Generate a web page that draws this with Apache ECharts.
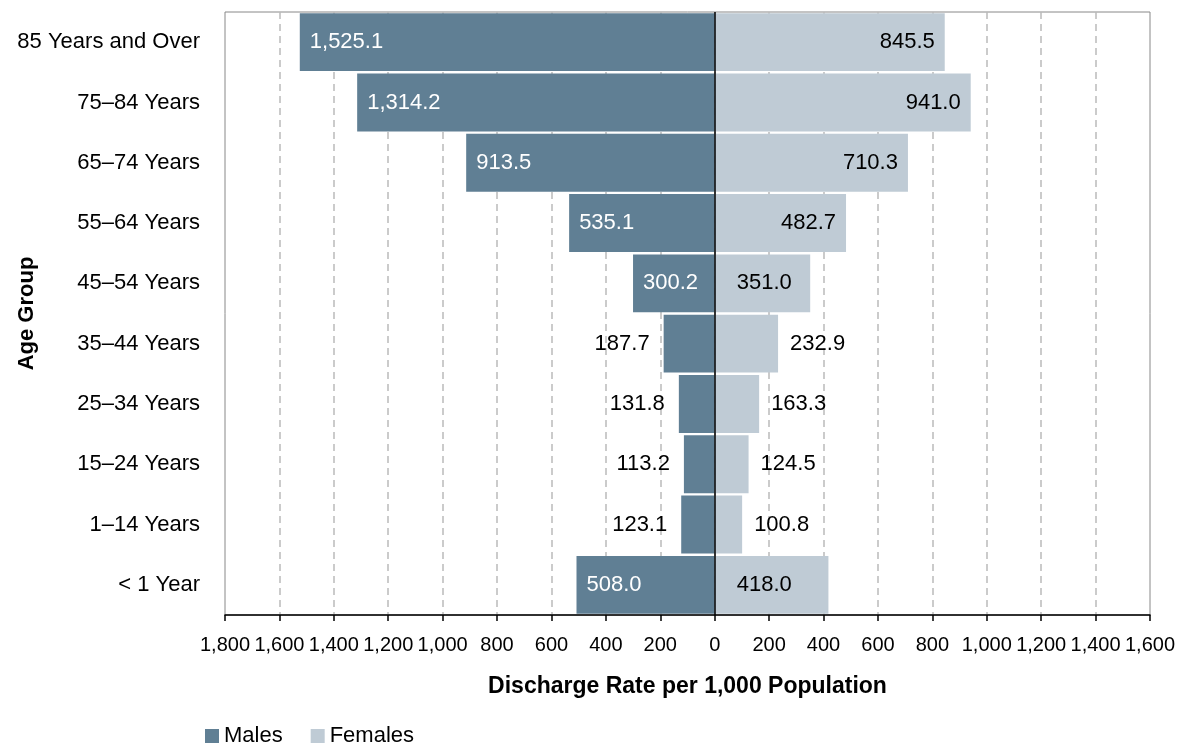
<!DOCTYPE html>
<html>
<head>
<meta charset="utf-8">
<script src="https://cdn.jsdelivr.net/npm/echarts@6/dist/echarts.min.js"></script>
<style>html,body{margin:0;padding:0;background:#fff}#c{width:1183px;height:745px}</style>
</head>
<body>
<div id="c"></div>
<script>
const categories = ["85 Years and Over","75–84 Years","65–74 Years","55–64 Years","45–54 Years","35–44 Years","25–34 Years","15–24 Years","1–14 Years","< 1 Year"];
const males = [1525.1, 1314.2, 913.5, 535.1, 300.2, 187.7, 131.8, 113.2, 123.1, 508.0];
const females = [845.5, 941.0, 710.3, 482.7, 351.0, 232.9, 163.3, 124.5, 100.8, 418.0];
const xMin = -1800, xMax = 1600, xStep = 200;

const FONT = '"Liberation Sans", Arial, sans-serif';
const fmt = v => Math.abs(v).toLocaleString('en-US', {minimumFractionDigits: 1, maximumFractionDigits: 1});
const fmtTick = v => Math.abs(v).toLocaleString('en-US');

const maleData = males.map(v => {
  const inside = v >= 250;
  return {
    value: -v,
    label: inside
      ? {position: 'insideLeft', color: '#fff', distance: 10}
      : {position: 'left', color: '#000', distance: 14}
  };
});
const femaleData = females.map(v => {
  let pos, dist;
  if (v >= 450) { pos = 'insideRight'; dist = 10; }
  else if (v >= 340) { pos = 'insideLeft'; dist = 22; }
  else { pos = 'right'; dist = 12; }
  return {value: v, label: {position: pos, color: '#000', distance: dist}};
});

const chart = echarts.init(document.getElementById('c'));
chart.setOption({
  animation: false,
  textStyle: {fontFamily: FONT},
  grid: {left: 225, right: 33, top: 12, bottom: 130, show: true, borderColor: '#888', borderWidth: 1, containLabel: false, outerBoundsMode: 'none'},
  legend: {
    data: ['Males', 'Females'],
    left: 200, top: 720,
    icon: 'rect', itemWidth: 14, itemHeight: 14, itemGap: 28,
    textStyle: {fontFamily: FONT, fontSize: 22, color: '#000'}
  },
  xAxis: {
    type: 'value', min: xMin, max: xMax, interval: xStep,
    name: 'Discharge Rate per 1,000 Population',
    nameLocation: 'middle', nameGap: 60, nameMoveOverlap: false,
    nameTextStyle: {fontFamily: FONT, fontSize: 23, fontWeight: 'bold', color: '#000'},
    axisLine: {show: true, lineStyle: {color: '#000', width: 1.5}},
    axisTick: {show: true, length: 6, lineStyle: {color: '#000', width: 1.5}},
    axisLabel: {formatter: fmtTick, fontSize: 20, color: '#000', margin: 20, fontFamily: FONT},
    splitLine: {show: true, showMinLine: false, showMaxLine: false, lineStyle: {color: '#bbb', type: [7, 5], width: 1.5}}
  },
  yAxis: {
    type: 'category', data: categories, inverse: true,
    name: 'Age Group', nameLocation: 'middle', nameGap: 187, nameRotate: 90, nameMoveOverlap: false,
    nameTextStyle: {fontFamily: FONT, fontSize: 22, fontWeight: 'bold', color: '#000'},
    axisLine: {show: false}, axisTick: {show: false},
    axisLabel: {fontSize: 22, color: '#000', margin: 25, fontFamily: FONT},
    splitLine: {show: false}
  },
  series: [
    {
      name: 'Males', type: 'bar', data: maleData,
      barGap: '-100%', barCategoryGap: '4%',
      itemStyle: {color: '#607f94'},
      label: {show: true, formatter: p => fmt(p.value), fontSize: 22, fontFamily: FONT},
      markLine: {
        silent: true, symbol: 'none', label: {show: false},
        lineStyle: {color: '#000', type: 'solid', width: 1.5},
        data: [{xAxis: 0}]
      },
      z: 3
    },
    {
      name: 'Females', type: 'bar', data: femaleData,
      barGap: '-100%', barCategoryGap: '4%',
      itemStyle: {color: '#bfcbd5'},
      label: {show: true, formatter: p => fmt(p.value), fontSize: 22, fontFamily: FONT},
      z: 3
    }
  ]
});
</script>
</body>
</html>
